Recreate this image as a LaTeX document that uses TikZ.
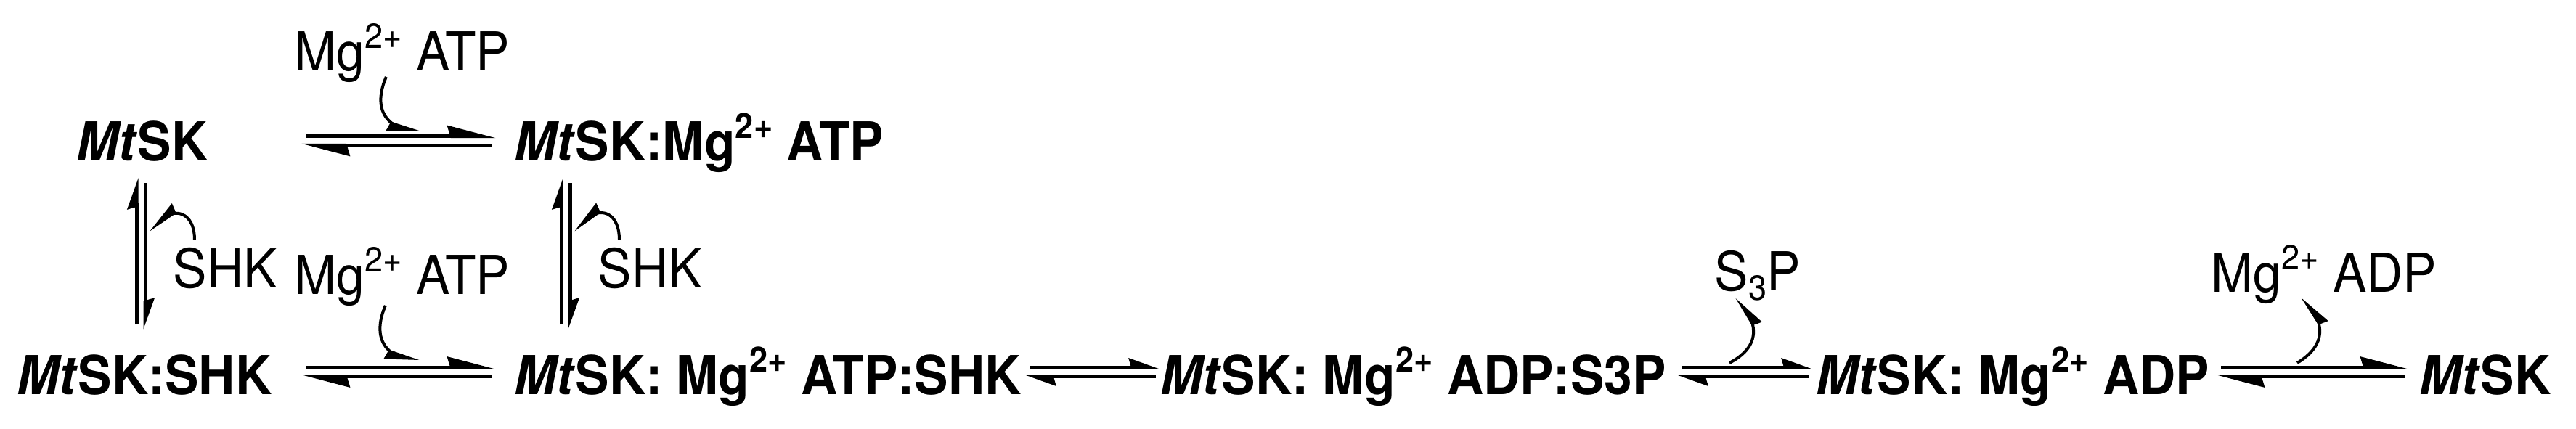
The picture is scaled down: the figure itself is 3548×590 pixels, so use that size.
\documentclass[tikz,border=0pt]{standalone}
\usepackage{fontspec}
\setmainfont{TeX Gyre Heros}[FakeStretch=0.94]
\usetikzlibrary{arrows.meta}
\usetikzlibrary{bending}
\tikzset{lbl/.style = {anchor = base west, inner sep = 0, font = \fontsize{18.5}{22}\selectfont}}
\tikzset{cpd/.style = {lbl, font = \fontsize{18.5}{22}\selectfont\bfseries}}
\tikzset{fwd/.style = {line width = 1.25pt, -{Stealth[left, length = 14.25pt, width = 7.25pt, inset = 1pt]}}}
\tikzset{bwd/.style = {line width = 1.25pt, {Stealth[left, length = 14.25pt, width = 7.25pt, inset = 1pt]}-}}
\tikzset{sfwd/.style = {line width = 1.25pt, -{Stealth[left, length = 9pt, width = 6.25pt, inset = 0.8pt]}}}
\tikzset{sbwd/.style = {line width = 1.25pt, {Stealth[left, length = 9pt, width = 6.25pt, inset = 0.8pt]}-}}
\tikzset{curv/.style = {line width = 1pt, -{Stealth[right, flex, length = 10pt, width = 6pt, inset = 0.5pt]}}}
\newcommand{\chg}[1]{\raisebox{7.75pt}{\fontsize{12}{14}\selectfont #1}}
\newcommand{\sbs}[1]{\raisebox{-3.25pt}{\fontsize{12}{14}\selectfont #1}}
\newcommand{\MtSK}{\textit{Mt}SK}
% horizontal and vertical equilibrium arrows
\newcommand{\eqh}[3][]{%
  \draw [#1fwd] ([xshift = 1.75pt, yshift = 1.6pt]#2) -- ([yshift = 1.6pt]#3);
  \draw [#1bwd] ([yshift = -1.6pt]#2) -- ([xshift = -1.5pt, yshift = -1.6pt]#3);}
\newcommand{\eqv}[2]{%
  \draw [sfwd] ([xshift = -1.5pt, yshift = 1.75pt]#2) -- ([xshift = -1.5pt]#1);
  \draw [sfwd] ([xshift = 1.5pt, yshift = -1.75pt]#1) -- ([xshift = 1.5pt]#2);}

\begin{document}
\begin{tikzpicture}[x = 0.25pt, y = -0.25pt]
  \useasboundingbox (0, 0) rectangle (3548, 590);

  \node [cpd] (enz) at (105, 221) {\MtSK};
  \node [cpd] (enzatp) at (708, 221) {\MtSK:Mg\chg{2+} ATP};
  \node [cpd] (enzshk) at (23, 543) {\MtSK:SHK};
  \node [cpd] (tern) at (708, 543) {\MtSK: Mg\chg{2+} ATP:SHK};
  \node [cpd] (prod) at (1598, 543) {\MtSK: Mg\chg{2+} ADP:S3P};
  \node [cpd] (enzadp) at (2501, 543) {\MtSK: Mg\chg{2+} ADP};
  \node [cpd] (enzfree) at (3332, 543) {\MtSK};

  \node [lbl] (atpin) at (405, 97) {Mg\chg{2+} ATP};
  \node [lbl] (atpin2) at (405, 405) {Mg\chg{2+} ATP};
  \node [lbl] (shkin) at (238, 396) {SHK};
  \node [lbl] (shkin2) at (823, 396) {SHK};
  \node [lbl] (s3pout) at (2361, 400) {S\sbs{3}P};
  \node [lbl] (adpout) at (3045, 402) {Mg\chg{2+} ADP};

  % arrow ends
  \coordinate (a1) at (415, 194);   \coordinate (b1) at (683, 194);
  \coordinate (a2) at (415, 512.5); \coordinate (b2) at (683, 512.5);
  \coordinate (a3) at (1411, 512.5);\coordinate (b3) at (1598, 512.5);
  \coordinate (a4) at (2309, 512.5);\coordinate (b4) at (2497, 512.5);
  \coordinate (a5) at (3052, 512.5);\coordinate (b5) at (3318, 512.5);
  \coordinate (v1) at (194, 245);   \coordinate (w1) at (194, 454);
  \coordinate (v2) at (779, 245);   \coordinate (w2) at (779, 454);

  \eqh{a1}{b1}
  \eqh{a2}{b2}
  \eqh[s]{a3}{b3}
  \eqh[s]{a4}{b4}
  \eqh{a5}{b5}
  \eqv{v1}{w1}
  \eqv{v2}{w2}

  % curly arrows
  \coordinate (c1) at (580, 183);
  \coordinate (c2) at (577, 498);
  \coordinate (d1) at (205, 317);
  \coordinate (d2) at (790, 317);
  \coordinate (e1) at (2382, 500);
  \coordinate (e2) at (3164, 500);

  \draw [curv] ([xshift = -5.5pt, yshift = 2pt]atpin.south) .. controls (515, 145) and (525, 178) .. (c1);
  \draw [curv] ([xshift = -5.75pt, yshift = 0.25pt]atpin2.south) .. controls (514, 460) and (524, 493) .. (c2);
  \draw [curv] ([xshift = 7.5pt, yshift = 2.5pt]shkin.north west) .. controls (268, 292) and (238, 278) .. (d1);
  \draw [curv] ([xshift = 7.5pt, yshift = 2.5pt]shkin2.north west) .. controls (853, 291) and (823, 277) .. (d2);
  \draw [curv] (e1) .. controls (2420, 480) and (2428, 450) .. ([xshift = 7.75pt, yshift = 1.25pt]s3pout.south west);
  \draw [curv] (e2) .. controls (3200, 478) and (3208, 448) .. ([xshift = -7.5pt, yshift = 2.5pt]adpout.south);
\end{tikzpicture}
\end{document}
